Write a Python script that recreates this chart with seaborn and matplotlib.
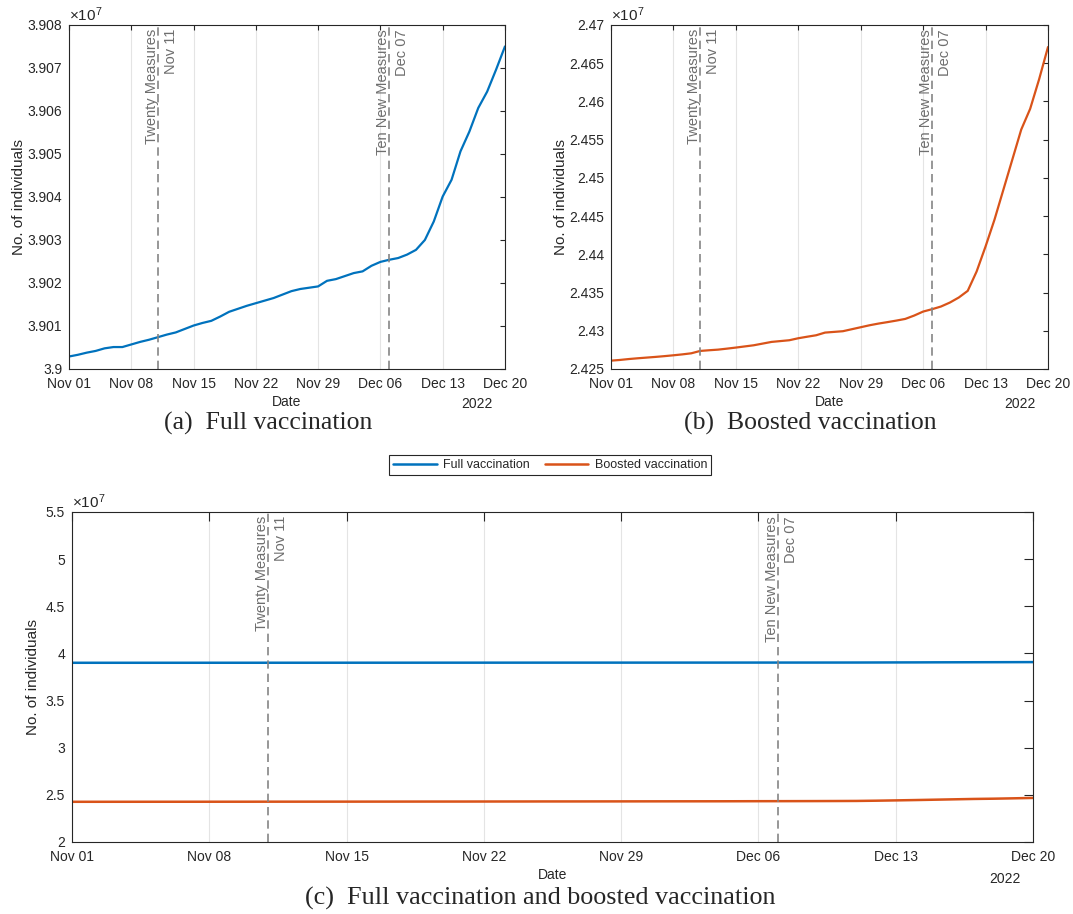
import pandas as pd
import numpy as np
import matplotlib
matplotlib.use('Agg')
import matplotlib.pyplot as plt
import matplotlib.dates as mdates
from matplotlib.ticker import FuncFormatter
import seaborn as sns

# Datos diarios (Nov 01 - Dec 20, 2022)
fechas = pd.date_range('2022-11-01', '2022-12-20', freq='D')

full_vacc = [39002900, 39003300, 39003800, 39004200, 39004800, 39005100, 39005100, 39005700,
             39006300, 39006800, 39007400, 39008000, 39008500, 39009300, 39010100, 39010700,
             39011200, 39012200, 39013300, 39014000, 39014700, 39015300, 39015900, 39016500,
             39017300, 39018100, 39018600, 39018900, 39019200, 39020500, 39020900, 39021600,
             39022300, 39022700, 39024000, 39024900, 39025400, 39025800, 39026600, 39027700,
             39030000, 39034300, 39040100, 39044000, 39050600, 39055200, 39060700, 39064500,
             39069600, 39075000]

boosted_vacc = [24260900, 24261800, 24263000, 24264000, 24264900, 24265800, 24266800, 24267900,
                24269100, 24270500, 24273600, 24274500, 24275300, 24276600, 24278000, 24279500,
                24281000, 24283200, 24285400, 24286500, 24287600, 24290200, 24292200, 24294100,
                24297600, 24298500, 24299400, 24302000, 24304600, 24307200, 24309400, 24311300,
                24313300, 24315500, 24319900, 24325100, 24328200, 24331700, 24336900, 24343500,
                24352200, 24377600, 24410300, 24445300, 24484600, 24523900, 24563200, 24590300,
                24628800, 24671100]

eventos_fecha = ['2022-11-11', '2022-12-07']
eventos_nombre = ['Twenty Measures', 'Ten New Measures']
eventos_etiqueta = ['Nov 11', 'Dec 07']

df = pd.DataFrame({'Date': fechas, 'Full vaccination': full_vacc,
                   'Boosted vaccination': boosted_vacc})

AZUL = '#0072BD'
NARANJA = '#D95319'
OSCURO = '#262626'

sns.set_style('white')
plt.rcParams['font.family'] = ['Liberation Sans', 'DejaVu Sans']
plt.rcParams['mathtext.fontset'] = 'custom'
plt.rcParams['mathtext.rm'] = 'Liberation Sans'

fig = plt.figure(figsize=(10.73, 9.14), dpi=100)
ax_a = fig.add_axes([0.0643, 0.5963, 0.4063, 0.3764])
ax_b = fig.add_axes([0.5694, 0.5963, 0.4073, 0.3764])
ax_c = fig.add_axes([0.0671, 0.0788, 0.8956, 0.3611])

semanas = pd.date_range('2022-11-01', '2022-12-20', freq='7D')


def estilo(ax, yticks, ticklen, year_off, ypad):
    ax.set_xlim(fechas[0], fechas[-1])
    ax.set_xticks(semanas)
    ax.xaxis.set_major_formatter(mdates.DateFormatter('%b %d'))
    ax.set_yticks(yticks)
    ax.set_ylim(yticks[0], yticks[-1])
    ax.yaxis.set_major_formatter(FuncFormatter(lambda v, p: f'{v / 1e7:g}'))
    ax.tick_params(direction='in', length=ticklen, width=0.8, colors=OSCURO,
                   labelsize=10, top=True, right=True, labelcolor=OSCURO)
    ax.tick_params(axis='x', pad=6)
    ax.tick_params(axis='y', pad=5)
    ax.grid(axis='x', color='#e4e4e4', linewidth=0.8)
    ax.grid(axis='y', visible=False)
    for s in ax.spines.values():
        s.set_color(OSCURO)
        s.set_linewidth(0.8)
    ax.set_xlabel('Date', fontsize=10, labelpad=3, color=OSCURO)
    ax.set_ylabel('No. of individuals', fontsize=11, color=OSCURO, labelpad=ypad)
    ax.text(0.0, 1.004, r'$\mathregular{\times10^{7}}$', transform=ax.transAxes,
            ha='left', va='bottom', fontsize=11, color=OSCURO)
    ax.annotate('2022', xy=(1, 0), xycoords='axes fraction', xytext=(-20, -year_off),
                textcoords='offset points', ha='center', va='center', fontsize=10,
                color=OSCURO)
    # Líneas de eventos
    trans = ax.get_xaxis_transform()
    for f, nombre, etiqueta in zip(eventos_fecha, eventos_nombre, eventos_etiqueta):
        x = mdates.date2num(pd.Timestamp(f))
        ax.axvline(x, color='#858585', linestyle=(0, (5, 3)), linewidth=1.2)
        ax.annotate(nombre, xy=(x, 0.988), xycoords=trans, xytext=(0.5, 0),
                    textcoords='offset points', rotation=90, ha='right', va='top',
                    fontsize=10.5, color='#6e6e6e')
        ax.annotate(etiqueta, xy=(x, 0.988), xycoords=trans, xytext=(4, 0),
                    textcoords='offset points', rotation=90, ha='left', va='top',
                    fontsize=10.5, color='#6e6e6e')
    ax.set_axisbelow(True)


sns.lineplot(data=df, x='Date', y='Full vaccination', ax=ax_a, color=AZUL, linewidth=1.6)
estilo(ax_a, np.arange(3.9, 3.9081, 0.001) * 1e7, 3.5, 25, 1)

sns.lineplot(data=df, x='Date', y='Boosted vaccination', ax=ax_b, color=NARANJA, linewidth=1.6)
estilo(ax_b, np.arange(2.425, 2.4701, 0.005) * 1e7, 3.5, 25, 1)

sns.lineplot(data=df, x='Date', y='Full vaccination', ax=ax_c, color=AZUL, linewidth=1.8,
             label='Full vaccination')
sns.lineplot(data=df, x='Date', y='Boosted vaccination', ax=ax_c, color=NARANJA, linewidth=1.8,
             label='Boosted vaccination')
handles, labels = ax_c.get_legend_handles_labels()
ax_c.get_legend().remove()
estilo(ax_c, np.arange(2.0, 5.51, 0.5) * 1e7, 6.5, 27, 4)

leg = fig.legend(handles, labels, ncol=2, loc='center', bbox_to_anchor=(0.5126, 0.4912),
                 fontsize=9, frameon=True, fancybox=False, framealpha=1,
                 edgecolor=OSCURO, handlelength=3.5, borderpad=0.3,
                 columnspacing=1.2, handletextpad=0.5)
leg.get_frame().set_linewidth(0.8)

# Leyendas de subfiguras
fig.text(268 / 1073, 1 - 423 / 914, '(a)  Full vaccination', ha='center', va='center',
         family='Liberation Serif', fontsize=18.5)
fig.text(810 / 1073, 1 - 423 / 914, '(b)  Boosted vaccination', ha='center', va='center',
         family='Liberation Serif', fontsize=18.5)
fig.text(540 / 1073, 1 - 898 / 914, '(c)  Full vaccination and boosted vaccination',
         ha='center', va='center', family='Liberation Serif', fontsize=18.8)

fig.savefig('out.png', dpi=100)
